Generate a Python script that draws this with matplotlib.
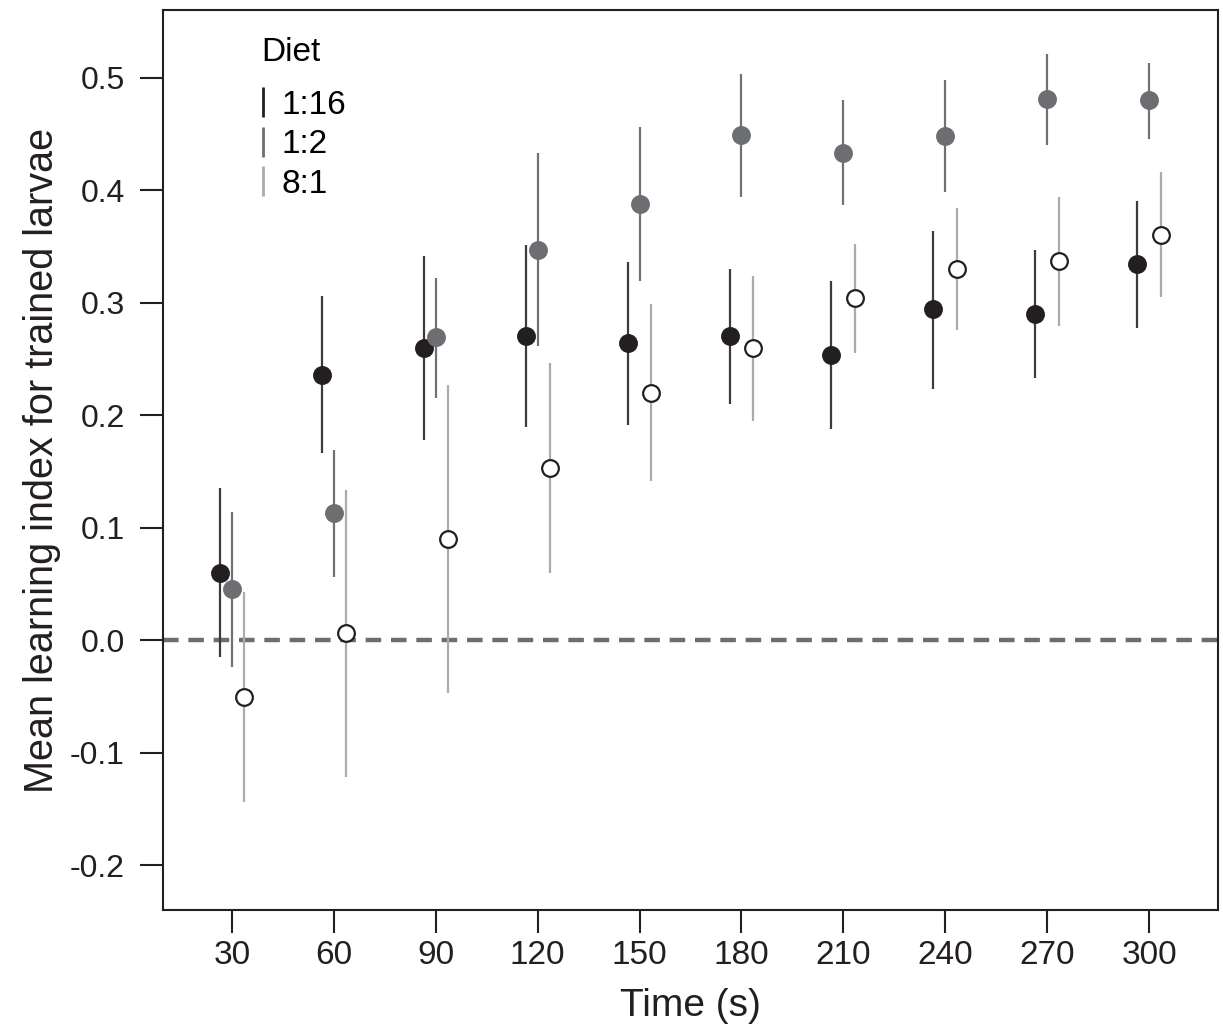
import matplotlib
matplotlib.use("Agg")
import matplotlib.pyplot as plt
from matplotlib.lines import Line2D

plt.rcParams["font.family"] = ["Liberation Sans", "DejaVu Sans"]

times = [30, 60, 90, 120, 150, 180, 210, 240, 270, 300]
diets = ["1:16", "1:2", "8:1"]

# mean, lower and upper end of bar
mean_116 = [0.060, 0.236, 0.260, 0.270, 0.264, 0.270, 0.253, 0.294, 0.290, 0.334]
lo_116 = [-0.015, 0.166, 0.178, 0.189, 0.191, 0.210, 0.188, 0.223, 0.233, 0.277]
hi_116 = [0.135, 0.306, 0.341, 0.351, 0.336, 0.330, 0.319, 0.364, 0.347, 0.390]

mean_12 = [0.045, 0.113, 0.269, 0.347, 0.388, 0.449, 0.433, 0.448, 0.481, 0.480]
lo_12 = [-0.024, 0.056, 0.215, 0.261, 0.319, 0.394, 0.387, 0.398, 0.440, 0.445]
hi_12 = [0.114, 0.169, 0.322, 0.433, 0.456, 0.503, 0.480, 0.498, 0.521, 0.513]

mean_81 = [-0.051, 0.006, 0.090, 0.153, 0.220, 0.260, 0.304, 0.330, 0.337, 0.360]
lo_81 = [-0.144, -0.122, -0.047, 0.060, 0.141, 0.195, 0.255, 0.276, 0.279, 0.305]
hi_81 = [0.043, 0.133, 0.227, 0.246, 0.299, 0.324, 0.352, 0.384, 0.394, 0.416]

series = [
    (mean_116, lo_116, hi_116, -3.5, "#231f20", "#231f20", "#3c3c3c"),
    (mean_12, lo_12, hi_12, 0.0, "#6d6e71", "#6d6e71", "#707174"),
    (mean_81, lo_81, hi_81, 3.5, "white", "#231f20", "#a9abae"),
]

fig = plt.figure(figsize=(12.23, 10.34), dpi=100)
ax = fig.add_axes([0.1333, 0.1199, 0.8626, 0.8704])

ax.axhline(0, color="#6d6e71", lw=3.2, ls=(0, (3.5, 2.2)), zorder=1)

for m, lo, hi, off, fc, ec, bc in series:
    xs = [t + off for t in times]
    err = [[a - b for a, b in zip(m, lo)], [b - a for a, b in zip(m, hi)]]
    ax.errorbar(xs, m, yerr=err, fmt="none", ecolor=bc, elinewidth=1.6, capsize=0, zorder=2)
    ax.plot(xs, m, "o", ms=12, mfc=fc, mec=ec, mew=1.6, ls="none", zorder=3)

ax.set_xlim(9.7, 320.3)
ax.set_ylim(-0.24, 0.56)
ax.set_xticks(times)
ax.set_yticks([-0.2, -0.1, 0.0, 0.1, 0.2, 0.3, 0.4, 0.5])
ax.set_yticklabels(["-0.2", "-0.1", "0.0", "0.1", "0.2", "0.3", "0.4", "0.5"], fontsize=23)
ax.set_xticklabels([str(t) for t in times], fontsize=24)
ax.tick_params(axis="both", direction="out", length=16.5, width=1.5, colors="#231f20")
ax.tick_params(axis="y", pad=11)
ax.tick_params(axis="x", pad=5)
for s in ax.spines.values():
    s.set_color("#231f20")
    s.set_linewidth(1.5)

ax.set_xlabel("Time (s)", fontsize=28, labelpad=12, color="#231f20")
ax.set_ylabel("Mean learning index for trained larvae", fontsize=28.5,
              labelpad=6, color="#231f20")

handles = [Line2D([], [], color=c, marker="|", ls="none", ms=22, mew=2)
           for c in ["#231f20", "#6d6e71", "#a9abae"]]
leg = ax.legend(handles, diets, title="Diet", loc="upper left", bbox_to_anchor=(0.068, 1.0),
                frameon=False, fontsize=24, title_fontsize=24, handlelength=0.1,
                handletextpad=0.5, labelspacing=0.25, borderaxespad=0.4, alignment="left")
leg._legend_box.sep = 16

fig.savefig("out.png", dpi=100)
